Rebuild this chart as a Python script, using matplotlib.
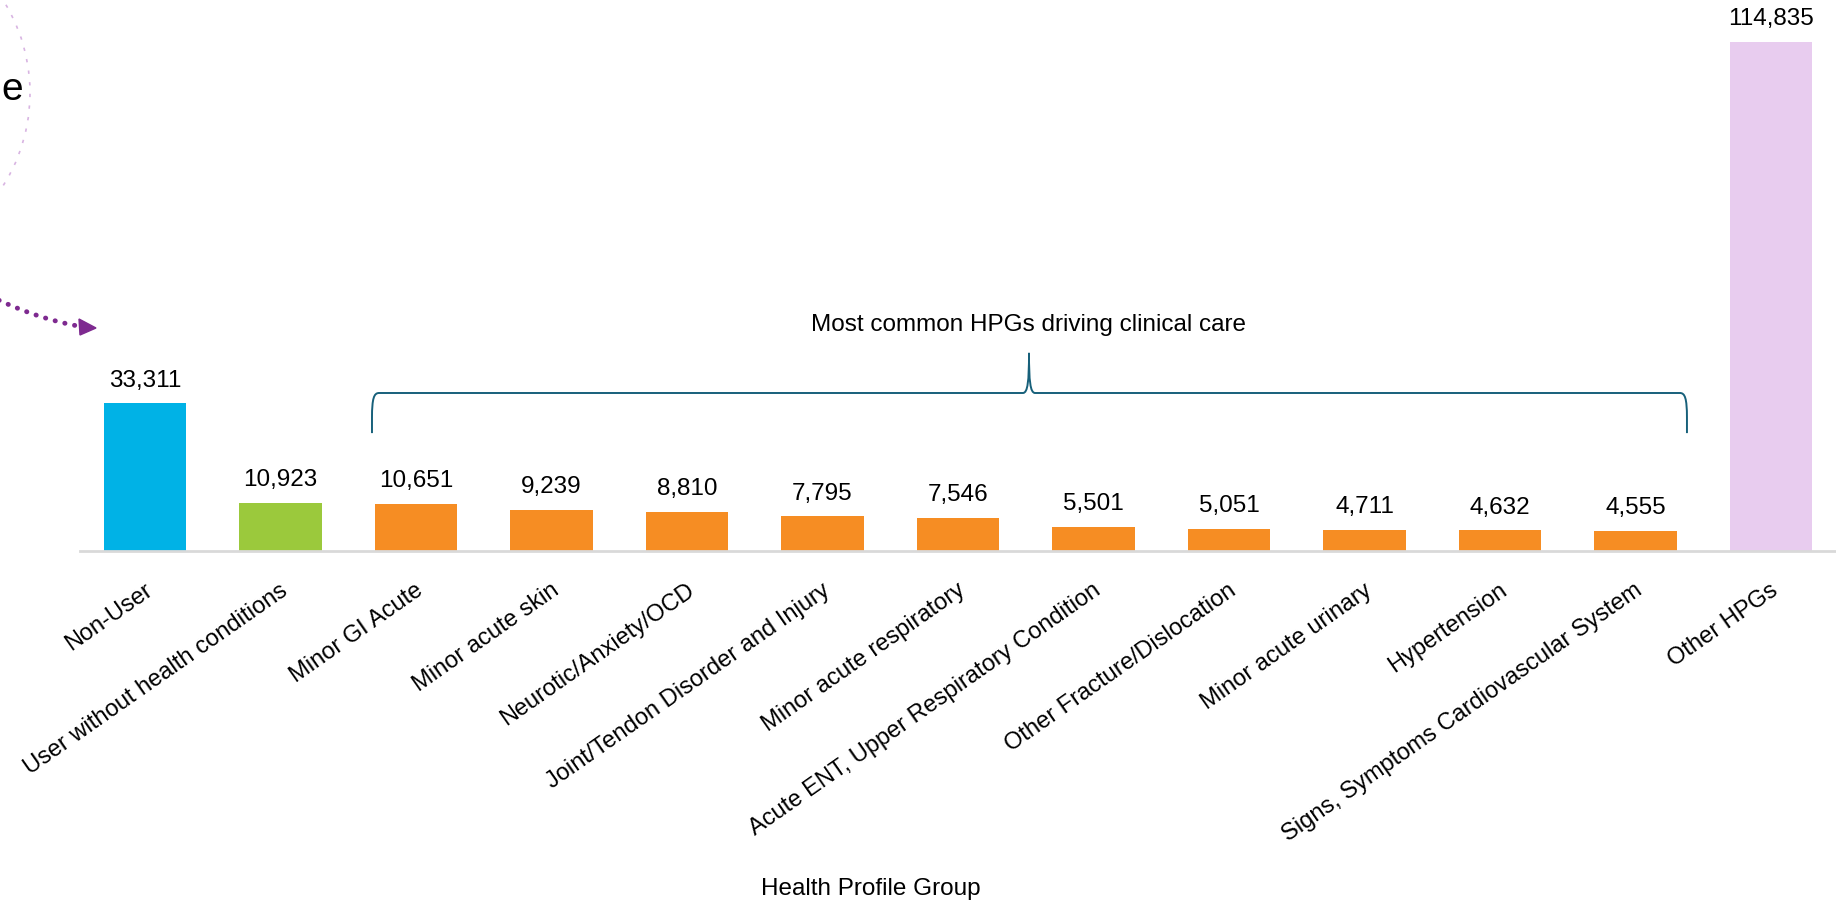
import numpy as np
import matplotlib
matplotlib.use("Agg")
import matplotlib.pyplot as plt
from matplotlib.path import Path
from matplotlib.patches import PathPatch, Arc, Polygon
from matplotlib.lines import Line2D
from matplotlib.transforms import Affine2D, ScaledTranslation

plt.rcParams['font.family'] = ['Liberation Sans', 'DejaVu Sans']

# data
groups = ["Non-User", "User without health conditions", "Minor GI Acute",
          "Minor acute skin", "Neurotic/Anxiety/OCD",
          "Joint/Tendon Disorder and Injury", "Minor acute respiratory",
          "Acute ENT, Upper Respiratory Condition", "Other Fracture/Dislocation",
          "Minor acute urinary", "Hypertension",
          "Signs, Symptoms Cardiovascular System", "Other HPGs"]
members = [33311, 10923, 10651, 9239, 8810, 7795, 7546, 5501, 5051,
           4711, 4632, 4555, 114835]
kinds = ["non", "healthy"] + ["common"] * 10 + ["other"]
kind_colors = {"non": "#00B2E6", "healthy": "#9BC93C",
               "common": "#F68D23", "other": "#E8CCEF"}
brace_text = "Most common HPGs driving clinical care"

W, H = 1836, 902
fig = plt.figure(figsize=(W / 100, H / 100), dpi=100)
ax = fig.add_axes([80 / W, (H - 551) / H, (W - 80) / W, 551 / H])

x = np.arange(len(groups))
ax.bar(x, members, width=0.61, color=[kind_colors[k] for k in kinds], zorder=2)
for xi, v in zip(x, members):
    ax.annotate(f"{v:,}", (xi, v), xytext=(0, 12), textcoords="offset points",
                ha="center", va="baseline", fontsize=17.5, color="black")

ax.set_xlim(-0.48, 12.48)
ax.set_ylim(0, 124320)
ax.set_yticks([])
for s in ["left", "top", "right"]:
    ax.spines[s].set_visible(False)
ax.spines["bottom"].set_color("#D9D9D9")
ax.spines["bottom"].set_linewidth(2)
ax.spines["bottom"].set_zorder(3)

ax.set_xticks(x)
ax.set_xticklabels(groups, rotation=35, ha="right", va="center",
                   rotation_mode="anchor", fontsize=17)
ax.tick_params(axis="x", length=0, pad=27)
shift = ScaledTranslation(5 / 100, 0, fig.dpi_scale_trans)
for lab in ax.get_xticklabels():
    lab.set_transform(lab.get_transform() + shift)

fig.text(871 / W, (H - 895) / H, "Health Profile Group", ha="center",
         va="baseline", fontsize=17.5)

# curly brace over the common HPGs
xl, xr, xp = 1.675, 11.38, 6.524
yb, yl, yt = 26600, 35650, 44700
dx, dy = 0.052, 5600
pk = 0.045
verts = [(xl, yb), (xl, yl - dy), (xl, yl - 0.2 * dy), (xl + 0.3 * dx, yl), (xl + dx, yl),
         (xp - pk, yl),
         (xp - 0.2 * pk, yl), (xp, yl + 0.3 * (yt - yl)), (xp, yt),
         (xp, yl + 0.3 * (yt - yl)), (xp + 0.2 * pk, yl), (xp + pk, yl),
         (xr - dx, yl),
         (xr - 0.3 * dx, yl), (xr, yl - 0.2 * dy), (xr, yl - dy), (xr, yb)]
codes = [Path.MOVETO, Path.LINETO, Path.CURVE4, Path.CURVE4, Path.CURVE4,
         Path.LINETO,
         Path.CURVE4, Path.CURVE4, Path.CURVE4,
         Path.CURVE4, Path.CURVE4, Path.CURVE4,
         Path.LINETO,
         Path.CURVE4, Path.CURVE4, Path.CURVE4, Path.LINETO]
ax.add_patch(PathPatch(Path(verts, codes), facecolor="none",
                       edgecolor="#17607A", lw=1.4, clip_on=False))
ax.text(xp, 49640, brace_text, ha="center", va="baseline", fontsize=17.5)

# leftovers from neighbouring slide elements (pixel coords from top-left)
px = Affine2D().scale(1 / W, -1 / H).translate(0, 1) + fig.transFigure
fig.add_artist(Arc((-144, 93), 348, 348, theta1=-42, theta2=42, transform=px,
                   color="#D8B4E2", lw=1.2, linestyle=(0, (2, 5))))
fig.text(1 / W, (H - 100) / H, "e", ha="left", va="baseline", fontsize=28)

t = np.linspace(0, 1, 60)
p0, p1, p2 = np.array([-10, 296]), np.array([35, 318]), np.array([78, 326])
curve = ((1 - t) ** 2)[:, None] * p0 + (2 * (1 - t) * t)[:, None] * p1 + (t ** 2)[:, None] * p2
fig.add_artist(Line2D(curve[:, 0], curve[:, 1], transform=px, color="#7E2A90",
                      lw=3.5, linestyle=(0, (0.05, 2.0)), dash_capstyle="round"))
fig.add_artist(Polygon([(79, 319), (96, 328), (80, 335)], closed=True,
                       transform=px, color="#7E2A90"))

plt.savefig("out.png", dpi=100)
